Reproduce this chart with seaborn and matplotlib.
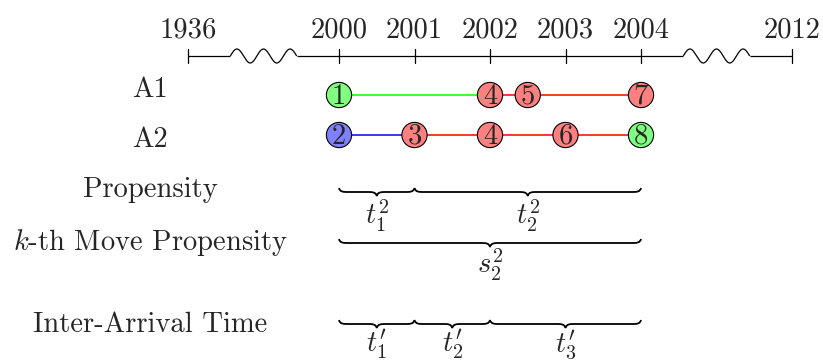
import numpy as np
import pandas as pd
import matplotlib
matplotlib.use("Agg")
import matplotlib.pyplot as plt
import seaborn as sns
from matplotlib.path import Path
from matplotlib.patches import PathPatch

# ---------------- data ----------------
tick_years = [1936, 2000, 2001, 2002, 2003, 2004, 2012]
tick_pos = [-2, 0, 1, 2, 3, 4, 6]          # broken-axis positions
break_centers = [-1, 5]                     # wavy breaks

a1_ids = [1, 4, 5, 7]
a1_times = [2000, 2002, 2002.5, 2004]
a1_fill = ["green", "red", "red", "red"]
a1_seg = ["green", "red", "red"]

a2_ids = [2, 3, 4, 6, 8]
a2_times = [2000, 2001, 2002, 2003, 2004]
a2_fill = ["blue", "red", "red", "red", "green"]
a2_seg = ["blue", "red", "red", "red"]

row_labels = ["A1", "A2", "Propensity", r"$k$-th Move Propensity", "Inter-Arrival Time"]

prop_bounds = [2000, 2001, 2004]
prop_labels = [r"$t_1^2$", r"$t_2^2$"]
kth_bounds = [2000, 2004]
kth_labels = [r"$s_2^2$"]
ia_bounds = [2000, 2001, 2002, 2004]
ia_labels = [r"$t_1^{\prime}$", r"$t_2^{\prime}$", r"$t_3^{\prime}$"]

# ---------------- style ----------------
sns.set_theme(style="white")
plt.rcParams["font.family"] = ["cmr10", "DejaVu Serif"]
plt.rcParams["mathtext.fontset"] = "cm"
plt.rcParams["axes.formatter.use_mathtext"] = True

FS = 20.6
fill_map = {"green": "#80ff80", "red": "#ff8080", "blue": "#8080ff"}
line_map = {"green": "#00ff00", "red": "#ff0000", "blue": "#0000ff"}

W, H = 823, 361
fig = plt.figure(figsize=(W / 100, H / 100), dpi=100)
ax = fig.add_axes([0, 0, 1, 1])
X0, XS = 339.0, 75.5                     # px of 2000, px per year

def pos(year):
    return year - 2000

# layout rows (pixel y)
Y_AXIS = 56
Y_A1, Y_A2 = 95, 135
LABEL_X = (150 - X0) / XS
label_base = [97, 147, 197, 250, 332]

# ---------------- timeline axis ----------------
pieces = []
lo = tick_pos[0]
for bc in break_centers:
    hw = 0.44
    pieces.append(([lo, bc - hw], [Y_AXIS, Y_AXIS]))
    t = np.linspace(0, 1, 200)
    xs = bc - hw + 2 * hw * t
    ys = Y_AXIS - 7 * np.sin(5 * np.pi * t)
    pieces.append((xs, ys))
    lo = bc + hw
pieces.append(([lo, tick_pos[-1]], [Y_AXIS, Y_AXIS]))
for xs, ys in pieces:
    ax.plot(xs, ys, color="black", lw=0.9, solid_capstyle="butt")

for yr, p in zip(tick_years, tick_pos):
    ax.plot([p, p], [Y_AXIS - 7, Y_AXIS + 7], color="black", lw=0.9)
    ax.text(p, 38, str(yr), ha="center", va="baseline", fontsize=FS)

# ---------------- event rows ----------------
seg_rows = []
pt_rows = []
for y, ids, times, fills, segs in [(Y_A1, a1_ids, a1_times, a1_fill, a1_seg),
                                   (Y_A2, a2_ids, a2_times, a2_fill, a2_seg)]:
    for i, c in enumerate(segs):
        key = f"{y}_{i}"
        seg_rows.append(dict(x=pos(times[i]), y=y, seg=key, c=c))
        seg_rows.append(dict(x=pos(times[i + 1]), y=y, seg=key, c=c))
    for k, t, f in zip(ids, times, fills):
        pt_rows.append(dict(x=pos(t), y=y, id=k, fill=f))
seg_df = pd.DataFrame(seg_rows)
pt_df = pd.DataFrame(pt_rows)

pal = {r.seg: line_map[r.c] for r in seg_df.itertuples()}
sns.lineplot(data=seg_df, x="x", y="y", hue="seg", palette=pal, sort=False,
             estimator=None, legend=False, lw=1.1, ax=ax, zorder=2)
sns.scatterplot(data=pt_df, x="x", y="y", hue="fill",
                palette={k: fill_map[k] for k in pt_df["fill"].unique()},
                s=330, edgecolor="black", linewidth=0.8, legend=False, ax=ax, zorder=3)
for r in pt_df.itertuples():
    ax.text(r.x, r.y + 9, str(r.id), ha="center", va="baseline", fontsize=FS, zorder=4)
ax.set_xlim((0 - X0) / XS, (W - X0) / XS)
ax.set_ylim(H, 0)
ax.axis("off")

# ---------------- row labels ----------------
for lab, yb in zip(row_labels, label_base):
    ax.text(LABEL_X, yb, lab, ha="center", va="baseline", fontsize=FS)

# ---------------- braces ----------------
def brace(x0, x1, yf, h=4.0, qpx=9.0):
    q = qpx / XS
    xm = (x0 + x1) / 2
    verts = [(x0, yf - h),
             (x0 + 0.1 * q, yf), (x0 + 0.5 * q, yf), (x0 + q, yf),
             (xm - q, yf),
             (xm - 0.5 * q, yf), (xm - 0.1 * q, yf), (xm, yf + h),
             (xm + 0.1 * q, yf), (xm + 0.5 * q, yf), (xm + q, yf),
             (x1 - q, yf),
             (x1 - 0.5 * q, yf), (x1 - 0.1 * q, yf), (x1, yf - h)]
    codes = [Path.MOVETO] + [Path.CURVE4] * 3 + [Path.LINETO] + [Path.CURVE4] * 6 + \
            [Path.LINETO] + [Path.CURVE4] * 3
    ax.add_patch(PathPatch(Path(verts, codes), fill=False, lw=1.3, color="black"))

for bounds, labels, yf, yl in [(prop_bounds, prop_labels, 192, 225),
                               (kth_bounds, kth_labels, 243, 274),
                               (ia_bounds, ia_labels, 324, 352)]:
    for i, lab in enumerate(labels):
        a, b = pos(bounds[i]), pos(bounds[i + 1])
        brace(a, b, yf)
        ax.text((a + b) / 2, yl, lab, ha="center", va="baseline", fontsize=FS)

fig.savefig("out.png", dpi=100)
